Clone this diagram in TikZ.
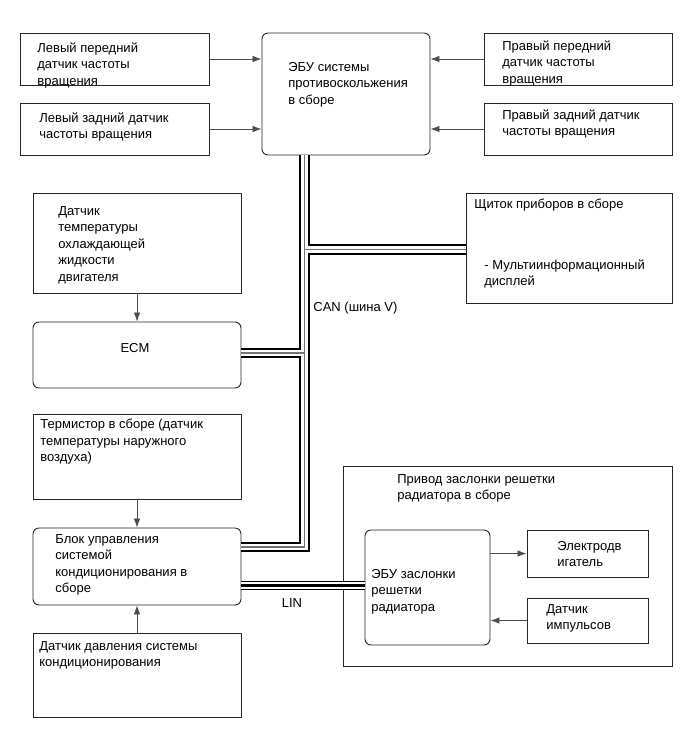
\documentclass[tikz,border=0pt]{standalone}
\usepackage{fontspec}
\setmainfont{Liberation Sans}
\usetikzlibrary{arrows.meta}

\begin{document}
\begin{tikzpicture}[x=1pt, y=-1pt, line width=0.8pt,
			box/.style = {draw=black!85, line width=0.9pt, inner sep=0pt},
			ecu/.style = {box, rounded corners=6pt},
			txt/.style = {font=\fontsize{13}{16.5}\selectfont, align=left, anchor=north west, inner sep=0pt},
			sig/.style = {draw=black!70, line width=0.8pt, -{Latex[length=9pt,width=6.5pt]}},
			canbus/.style = {line width=2pt, double=white, double distance=6.5pt, line join=miter},
			canmid/.style = {draw=black!55, line width=1.5pt},
			linbus/.style = {line width=1pt, double=white, double distance=7pt},
			linmid/.style = {line width=3pt}]
			
			\useasboundingbox (0,0) rectangle (689,756);
			
			\node[box, minimum width=189, minimum height=52] (lf) at (114.5,59) {};
			\node[box, minimum width=189, minimum height=52] (lr) at (114.5,129) {};
			\node[ecu, minimum width=168, minimum height=122] (abs) at (346,94) {};
			\node[box, minimum width=188, minimum height=52] (rf) at (578,59) {};
			\node[box, minimum width=188, minimum height=52] (rr) at (578,129) {};
			
			\node[box, minimum width=208, minimum height=100] (cool) at (137,243) {};
			\node[ecu, minimum width=208, minimum height=66] (ecm) at (137,355) {};
			\node[box, minimum width=206, minimum height=110] (panel) at (569,248) {};
			
			\node[box, minimum width=208, minimum height=85] (therm) at (137,456.5) {};
			\node[ecu, minimum width=208, minimum height=77] (ac) at (137,566.5) {};
			\node[box, minimum width=208, minimum height=84] (press) at (137,675) {};
			
			\node[box, minimum width=329, minimum height=200] (grille) at (507.5,566) {};
			\node[ecu, minimum width=125, minimum height=115] (gecu) at (427.5,587.5) {};
			\node[box, minimum width=121, minimum height=47] (motor) at (587.5,553.5) {};
			\node[box, minimum width=121, minimum height=45] (pulse) at (587.5,620.5) {};
			
			\coordinate (jpanel) at (304.5,249.5);
			\coordinate (jecm) at (304.5,353);
			\coordinate (jac) at (304.5,547);
			\coordinate (jlin) at (300,585);
			
			\draw[canbus] (abs.south -| jac) -- (jac) -- (jac -| ac.east)
				(jecm) -- (jecm -| ecm.east)
				(jpanel) -- (jpanel -| panel.west);
			\draw[canmid] (abs.south -| jac) -- (jac) -- (jac -| ac.east)
				(jecm) -- (jecm -| ecm.east)
				(jpanel) -- (jpanel -| panel.west);
			\draw[linbus] (ac.east |- jlin) -- (gecu.west |- jlin);
			\draw[linmid] (ac.east |- jlin) -- (gecu.west |- jlin);
			
			\draw[sig] (lf) -- (abs.west |- lf);
			\draw[sig] (lr) -- (abs.west |- lr);
			\draw[sig] (rf) -- (abs.east |- rf);
			\draw[sig] (rr) -- (abs.east |- rr);
			\draw[sig] (cool) -- (ecm);
			\draw[sig] (therm) -- (ac);
			\draw[sig] (press) -- (ac);
			\draw[sig] (gecu.east |- motor) -- (motor);
			\draw[sig] (pulse) -- (gecu.east |- pulse);
			
			\node[txt] (lf-t) at (37,42) {Левый передний\\датчик частоты\\вращения};
			\node[txt] (lr-t) at (39,112) {Левый задний датчик\\частоты вращения};
			\node[txt] (abs-t) at (288,62) {ЭБУ системы\\противоскольжения\\в сборе};
			\node[txt] (rf-t) at (502,40) {Правый передний\\датчик частоты\\вращения};
			\node[txt] (rr-t) at (502,109) {Правый задний датчик\\частоты вращения};
			\node[txt] (cool-t) at (58,206) {Датчик\\температуры\\охлаждающей\\жидкости\\двигателя};
			\node[txt, anchor=center] (ecm-t) at (135,348) {ECM};
			\node[txt] (panel-t) at (474,199) {Щиток приборов в сборе};
			\node[txt] (mid-t) at (484,259) {- Мультиинформационный\\дисплей};
			\node[txt] (can-t) at (313,302) {CAN (шина V)};
			\node[txt] (therm-t) at (40,419) {Термистор в сборе (датчик\\температуры наружного\\воздуха)};
			\node[txt] (ac-t) at (55,534) {Блок управления\\системой\\кондиционирования в\\сборе};
			\node[txt, anchor=center] (lin-t) at (292,603) {LIN};
			\node[txt] (press-t) at (39,641) {Датчик давления системы\\кондиционирования};
			\node[txt] (grille-t) at (397,474) {Привод заслонки решетки\\радиатора в сборе};
			\node[txt] (gecu-t) at (371,569) {ЭБУ заслонки\\решетки\\радиатора};
			\node[txt] (motor-t) at (557,541) {Электродв\\игатель};
			\node[txt] (pulse-t) at (546,604) {Датчик\\импульсов};
			
		\end{tikzpicture}
\end{document}
